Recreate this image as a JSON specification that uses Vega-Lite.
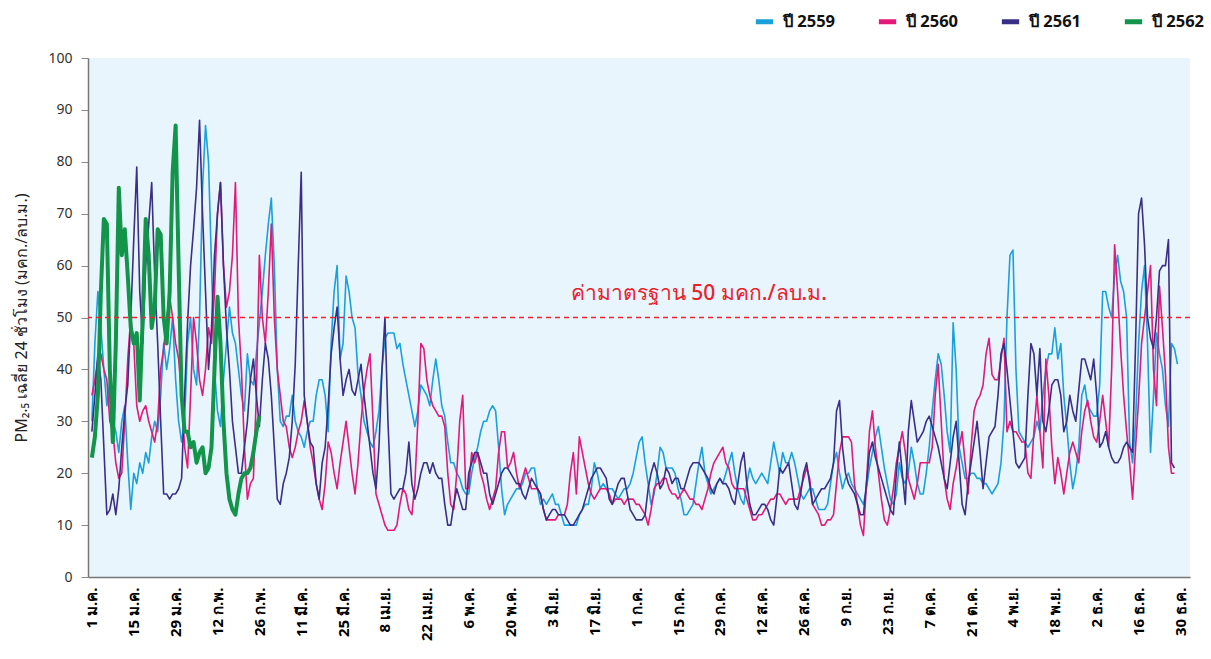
{
"$schema": "https://vega.github.io/schema/vega-lite/v6.json",
"width": 1102, "height": 519,
"autosize": {"type": "none"},
"padding": {"left": 88, "top": 58, "right": 21, "bottom": 82},
"background": "#ffffff",
"config": {"view": {"fill": "#e9f5fd", "stroke": null}, "font": "Noto Sans"},
"layer": [
{
"data": {"values": [
{"d":0,"2559":30,"2560":35,"2561":28,"2562":23},
{"d":1,"2559":45,"2560":38,"2561":35,"2562":27},
{"d":2,"2559":55,"2560":42,"2561":43,"2562":35},
{"d":3,"2559":48,"2560":43,"2561":38,"2562":55},
{"d":4,"2559":40,"2560":40,"2561":25,"2562":69},
{"d":5,"2559":33,"2560":38,"2561":12,"2562":68},
{"d":6,"2559":38,"2560":30,"2561":13,"2562":40},
{"d":7,"2559":30,"2560":28,"2561":16,"2562":26},
{"d":8,"2559":28,"2560":22,"2561":12,"2562":45},
{"d":9,"2559":24,"2560":19,"2561":17,"2562":75},
{"d":10,"2559":30,"2560":20,"2561":25,"2562":62},
{"d":11,"2559":33,"2560":30,"2561":32,"2562":67},
{"d":12,"2559":22,"2560":42,"2561":37,"2562":58},
{"d":13,"2559":13,"2560":50,"2561":50,"2562":48},
{"d":14,"2559":20,"2560":45,"2561":65,"2562":45},
{"d":15,"2559":18,"2560":33,"2561":79,"2562":47},
{"d":16,"2559":22,"2560":30,"2561":55,"2562":34},
{"d":17,"2559":20,"2560":32,"2561":45,"2562":50},
{"d":18,"2559":24,"2560":33,"2561":60,"2562":69},
{"d":19,"2559":22,"2560":30,"2561":68,"2562":62},
{"d":20,"2559":27,"2560":28,"2561":76,"2562":48},
{"d":21,"2559":30,"2560":26,"2561":58,"2562":52},
{"d":22,"2559":28,"2560":30,"2561":45,"2562":67},
{"d":23,"2559":35,"2560":40,"2561":30,"2562":66},
{"d":24,"2559":45,"2560":44,"2561":16,"2562":50},
{"d":25,"2559":40,"2560":50,"2561":16,"2562":45},
{"d":26,"2559":44,"2560":54,"2561":15,"2562":55},
{"d":27,"2559":50,"2560":50,"2561":16,"2562":78},
{"d":28,"2559":38,"2560":45,"2561":16,"2562":87},
{"d":29,"2559":30,"2560":42,"2561":17,"2562":60},
{"d":30,"2559":26,"2560":35,"2561":19,"2562":35},
{"d":31,"2559":30,"2560":25,"2561":35,"2562":28},
{"d":32,"2559":45,"2560":21,"2561":49,"2562":28},
{"d":33,"2559":50,"2560":35,"2561":60,"2562":25},
{"d":34,"2559":40,"2560":50,"2561":67,"2562":26},
{"d":35,"2559":37,"2560":45,"2561":75,"2562":22},
{"d":36,"2559":50,"2560":38,"2561":88,"2562":24},
{"d":37,"2559":75,"2560":35,"2561":70,"2562":25},
{"d":38,"2559":87,"2560":40,"2561":55,"2562":20},
{"d":39,"2559":80,"2560":48,"2561":40,"2562":21},
{"d":40,"2559":60,"2560":45,"2561":48,"2562":25},
{"d":41,"2559":40,"2560":55,"2561":62,"2562":40},
{"d":42,"2559":32,"2560":70,"2561":70,"2562":54},
{"d":43,"2559":29,"2560":76,"2561":76,"2562":45},
{"d":44,"2559":38,"2560":60,"2561":60,"2562":30},
{"d":45,"2559":45,"2560":52,"2561":48,"2562":20},
{"d":46,"2559":52,"2560":55,"2561":40,"2562":15},
{"d":47,"2559":47,"2560":62,"2561":30,"2562":13},
{"d":48,"2559":45,"2560":76,"2561":25,"2562":12},
{"d":49,"2559":40,"2560":50,"2561":20,"2562":16},
{"d":50,"2559":35,"2560":40,"2561":20,"2562":19},
{"d":51,"2559":32,"2560":25,"2561":25,"2562":20},
{"d":52,"2559":43,"2560":15,"2561":30,"2562":20},
{"d":53,"2559":38,"2560":18,"2561":38,"2562":21},
{"d":54,"2559":37,"2560":19,"2561":42,"2562":24},
{"d":55,"2559":43,"2560":35,"2561":35,"2562":28},
{"d":56,"2559":49,"2560":62,"2561":29,"2562":31},
{"d":57,"2559":55,"2560":50,"2561":38},
{"d":58,"2559":62,"2560":45,"2561":45},
{"d":59,"2559":68,"2560":55,"2561":42},
{"d":60,"2559":73,"2560":68,"2561":35},
{"d":61,"2559":60,"2560":50,"2561":25},
{"d":62,"2559":40,"2560":40,"2561":15},
{"d":63,"2559":30,"2560":35,"2561":14},
{"d":64,"2559":29,"2560":30,"2561":18},
{"d":65,"2559":31,"2560":29,"2561":20},
{"d":66,"2559":31,"2560":25,"2561":23},
{"d":67,"2559":35,"2560":23,"2561":30},
{"d":68,"2559":30,"2560":25,"2561":41},
{"d":69,"2559":28,"2560":28,"2561":60},
{"d":70,"2559":27,"2560":30,"2561":78},
{"d":71,"2559":25,"2560":34,"2561":35},
{"d":72,"2559":28,"2560":30,"2561":30},
{"d":73,"2559":30,"2560":25,"2561":26},
{"d":74,"2559":30,"2560":22,"2561":25},
{"d":75,"2559":35,"2560":18,"2561":18},
{"d":76,"2559":38,"2560":15,"2561":15},
{"d":77,"2559":38,"2560":13,"2561":22},
{"d":78,"2559":35,"2560":18,"2561":25},
{"d":79,"2559":28,"2560":26,"2561":33},
{"d":80,"2559":45,"2560":24,"2561":43},
{"d":81,"2559":55,"2560":20,"2561":48},
{"d":82,"2559":60,"2560":17,"2561":52},
{"d":83,"2559":42,"2560":22,"2561":42},
{"d":84,"2559":45,"2560":26,"2561":35},
{"d":85,"2559":58,"2560":30,"2561":38},
{"d":86,"2559":55,"2560":25,"2561":40},
{"d":87,"2559":50,"2560":20,"2561":36},
{"d":88,"2559":48,"2560":16,"2561":35},
{"d":89,"2559":39,"2560":22,"2561":38},
{"d":90,"2559":35,"2560":30,"2561":41},
{"d":91,"2559":30,"2560":36,"2561":35},
{"d":92,"2559":28,"2560":40,"2561":30},
{"d":93,"2559":26,"2560":43,"2561":25},
{"d":94,"2559":25,"2560":30,"2561":20},
{"d":95,"2559":28,"2560":16,"2561":17},
{"d":96,"2559":32,"2560":14,"2561":25},
{"d":97,"2559":40,"2560":12,"2561":40},
{"d":98,"2559":46,"2560":10,"2561":50},
{"d":99,"2559":47,"2560":9,"2561":30},
{"d":100,"2559":47,"2560":9,"2561":16},
{"d":101,"2559":47,"2560":9,"2561":15},
{"d":102,"2559":44,"2560":10,"2561":16},
{"d":103,"2559":45,"2560":14,"2561":17},
{"d":104,"2559":41,"2560":17,"2561":17},
{"d":105,"2559":38,"2560":16,"2561":20},
{"d":106,"2559":35,"2560":13,"2561":26},
{"d":107,"2559":32,"2560":12,"2561":18},
{"d":108,"2559":29,"2560":18,"2561":15},
{"d":109,"2559":32,"2560":30,"2561":17},
{"d":110,"2559":37,"2560":45,"2561":20},
{"d":111,"2559":36,"2560":44,"2561":22},
{"d":112,"2559":35,"2560":38,"2561":22},
{"d":113,"2559":33,"2560":35,"2561":20},
{"d":114,"2559":38,"2560":33,"2561":22},
{"d":115,"2559":42,"2560":32,"2561":20},
{"d":116,"2559":38,"2560":31,"2561":19},
{"d":117,"2559":33,"2560":31,"2561":19},
{"d":118,"2559":31,"2560":29,"2561":14},
{"d":119,"2559":26,"2560":20,"2561":10},
{"d":120,"2559":22,"2560":14,"2561":10},
{"d":121,"2559":22,"2560":13,"2561":14},
{"d":122,"2559":20,"2560":20,"2561":17},
{"d":123,"2559":19,"2560":30,"2561":15},
{"d":124,"2559":17,"2560":35,"2561":13},
{"d":125,"2559":16,"2560":17,"2561":13},
{"d":126,"2559":16,"2560":17,"2561":20},
{"d":127,"2559":20,"2560":24,"2561":22},
{"d":128,"2559":23,"2560":22,"2561":24},
{"d":129,"2559":25,"2560":24,"2561":24},
{"d":130,"2559":28,"2560":20,"2561":22},
{"d":131,"2559":30,"2560":18,"2561":20},
{"d":132,"2559":30,"2560":15,"2561":20},
{"d":133,"2559":32,"2560":13,"2561":16},
{"d":134,"2559":33,"2560":15,"2561":14},
{"d":135,"2559":32,"2560":17,"2561":16},
{"d":136,"2559":25,"2560":24,"2561":18},
{"d":137,"2559":17,"2560":28,"2561":20},
{"d":138,"2559":12,"2560":28,"2561":21},
{"d":139,"2559":14,"2560":21,"2561":21},
{"d":140,"2559":15,"2560":22,"2561":20},
{"d":141,"2559":16,"2560":24,"2561":19},
{"d":142,"2559":17,"2560":20,"2561":18},
{"d":143,"2559":17,"2560":17,"2561":18},
{"d":144,"2559":18,"2560":19,"2561":16},
{"d":145,"2559":20,"2560":21,"2561":15},
{"d":146,"2559":20,"2560":19,"2561":17},
{"d":147,"2559":21,"2560":17,"2561":19},
{"d":148,"2559":21,"2560":17,"2561":18},
{"d":149,"2559":17,"2560":17,"2561":17},
{"d":150,"2559":14,"2560":16,"2561":16},
{"d":151,"2559":15,"2560":13,"2561":13},
{"d":152,"2559":14,"2560":11,"2561":11},
{"d":153,"2559":15,"2560":11,"2561":12},
{"d":154,"2559":16,"2560":11,"2561":13},
{"d":155,"2559":14,"2560":11,"2561":13},
{"d":156,"2559":14,"2560":12,"2561":12},
{"d":157,"2559":12,"2560":12,"2561":12},
{"d":158,"2559":10,"2560":12,"2561":12},
{"d":159,"2559":10,"2560":14,"2561":11},
{"d":160,"2559":10,"2560":20,"2561":10},
{"d":161,"2559":10,"2560":24,"2561":10},
{"d":162,"2559":10,"2560":16,"2561":11},
{"d":163,"2559":12,"2560":27,"2561":12},
{"d":164,"2559":13,"2560":24,"2561":13},
{"d":165,"2559":14,"2560":21,"2561":15},
{"d":166,"2559":14,"2560":18,"2561":17},
{"d":167,"2559":17,"2560":16,"2561":19},
{"d":168,"2559":22,"2560":15,"2561":20},
{"d":169,"2559":20,"2560":16,"2561":21},
{"d":170,"2559":17,"2560":17,"2561":21},
{"d":171,"2559":18,"2560":17,"2561":20},
{"d":172,"2559":17,"2560":17,"2561":19},
{"d":173,"2559":17,"2560":16,"2561":15},
{"d":174,"2559":17,"2560":14,"2561":14},
{"d":175,"2559":16,"2560":15,"2561":16},
{"d":176,"2559":15,"2560":15,"2561":18},
{"d":177,"2559":16,"2560":15,"2561":19},
{"d":178,"2559":17,"2560":14,"2561":19},
{"d":179,"2559":17,"2560":15,"2561":16},
{"d":180,"2559":18,"2560":15,"2561":13},
{"d":181,"2559":20,"2560":15,"2561":12},
{"d":182,"2559":23,"2560":14,"2561":11},
{"d":183,"2559":26,"2560":14,"2561":11},
{"d":184,"2559":27,"2560":13,"2561":11},
{"d":185,"2559":22,"2560":12,"2561":12},
{"d":186,"2559":18,"2560":10,"2561":17},
{"d":187,"2559":14,"2560":13,"2561":20},
{"d":188,"2559":16,"2560":17,"2561":22},
{"d":189,"2559":20,"2560":18,"2561":20},
{"d":190,"2559":25,"2560":18,"2561":17},
{"d":191,"2559":24,"2560":19,"2561":18},
{"d":192,"2559":21,"2560":19,"2561":21},
{"d":193,"2559":21,"2560":17,"2561":20},
{"d":194,"2559":21,"2560":16,"2561":18},
{"d":195,"2559":20,"2560":16,"2561":19},
{"d":196,"2559":17,"2560":15,"2561":19},
{"d":197,"2559":15,"2560":16,"2561":17},
{"d":198,"2559":12,"2560":17,"2561":17},
{"d":199,"2559":12,"2560":16,"2561":19},
{"d":200,"2559":13,"2560":15,"2561":21},
{"d":201,"2559":14,"2560":15,"2561":22},
{"d":202,"2559":18,"2560":14,"2561":22},
{"d":203,"2559":22,"2560":14,"2561":22},
{"d":204,"2559":25,"2560":13,"2561":21},
{"d":205,"2559":20,"2560":15,"2561":20},
{"d":206,"2559":18,"2560":17,"2561":19},
{"d":207,"2559":16,"2560":20,"2561":17},
{"d":208,"2559":17,"2560":22,"2561":16},
{"d":209,"2559":18,"2560":23,"2561":18},
{"d":210,"2559":19,"2560":24,"2561":19},
{"d":211,"2559":18,"2560":25,"2561":18},
{"d":212,"2559":20,"2560":22,"2561":18},
{"d":213,"2559":22,"2560":21,"2561":17},
{"d":214,"2559":24,"2560":18,"2561":15},
{"d":215,"2559":20,"2560":17,"2561":14},
{"d":216,"2559":17,"2560":17,"2561":18},
{"d":217,"2559":15,"2560":17,"2561":22},
{"d":218,"2559":14,"2560":17,"2561":24},
{"d":219,"2559":18,"2560":15,"2561":18},
{"d":220,"2559":21,"2560":13,"2561":14},
{"d":221,"2559":19,"2560":11,"2561":12},
{"d":222,"2559":18,"2560":11,"2561":12},
{"d":223,"2559":19,"2560":12,"2561":13},
{"d":224,"2559":20,"2560":12,"2561":14},
{"d":225,"2559":19,"2560":13,"2561":14},
{"d":226,"2559":18,"2560":14,"2561":13},
{"d":227,"2559":22,"2560":15,"2561":11},
{"d":228,"2559":26,"2560":15,"2561":10},
{"d":229,"2559":23,"2560":16,"2561":15},
{"d":230,"2559":20,"2560":16,"2561":21},
{"d":231,"2559":24,"2560":15,"2561":20},
{"d":232,"2559":22,"2560":14,"2561":21},
{"d":233,"2559":22,"2560":15,"2561":22},
{"d":234,"2559":24,"2560":15,"2561":18},
{"d":235,"2559":22,"2560":15,"2561":14},
{"d":236,"2559":19,"2560":15,"2561":13},
{"d":237,"2559":16,"2560":17,"2561":16},
{"d":238,"2559":15,"2560":19,"2561":20},
{"d":239,"2559":16,"2560":21,"2561":22},
{"d":240,"2559":17,"2560":19,"2561":18},
{"d":241,"2559":17,"2560":14,"2561":14},
{"d":242,"2559":15,"2560":13,"2561":15},
{"d":243,"2559":13,"2560":12,"2561":16},
{"d":244,"2559":13,"2560":10,"2561":17},
{"d":245,"2559":13,"2560":10,"2561":17},
{"d":246,"2559":14,"2560":11,"2561":18},
{"d":247,"2559":18,"2560":11,"2561":19},
{"d":248,"2559":22,"2560":12,"2561":22},
{"d":249,"2559":24,"2560":18,"2561":32},
{"d":250,"2559":20,"2560":24,"2561":34},
{"d":251,"2559":17,"2560":27,"2561":25},
{"d":252,"2559":19,"2560":27,"2561":20},
{"d":253,"2559":20,"2560":27,"2561":18},
{"d":254,"2559":18,"2560":26,"2561":17},
{"d":255,"2559":17,"2560":18,"2561":16},
{"d":256,"2559":16,"2560":14,"2561":14},
{"d":257,"2559":15,"2560":10,"2561":12},
{"d":258,"2559":14,"2560":8,"2561":12},
{"d":259,"2559":17,"2560":18,"2561":18},
{"d":260,"2559":21,"2560":28,"2561":24},
{"d":261,"2559":24,"2560":32,"2561":26},
{"d":262,"2559":27,"2560":25,"2561":23},
{"d":263,"2559":29,"2560":20,"2561":21},
{"d":264,"2559":25,"2560":15,"2561":19},
{"d":265,"2559":21,"2560":11,"2561":17},
{"d":266,"2559":18,"2560":10,"2561":15},
{"d":267,"2559":15,"2560":13,"2561":13},
{"d":268,"2559":14,"2560":17,"2561":12},
{"d":269,"2559":16,"2560":22,"2561":20},
{"d":270,"2559":22,"2560":25,"2561":26},
{"d":271,"2559":19,"2560":28,"2561":20},
{"d":272,"2559":18,"2560":24,"2561":14},
{"d":273,"2559":20,"2560":19,"2561":28},
{"d":274,"2559":25,"2560":17,"2561":34},
{"d":275,"2559":22,"2560":15,"2561":30},
{"d":276,"2559":18,"2560":18,"2561":26},
{"d":277,"2559":16,"2560":22,"2561":27},
{"d":278,"2559":16,"2560":22,"2561":28},
{"d":279,"2559":20,"2560":22,"2561":30},
{"d":280,"2559":25,"2560":22,"2561":31},
{"d":281,"2559":32,"2560":25,"2561":29},
{"d":282,"2559":38,"2560":35,"2561":27},
{"d":283,"2559":43,"2560":41,"2561":25},
{"d":284,"2559":41,"2560":30,"2561":22},
{"d":285,"2559":35,"2560":19,"2561":19},
{"d":286,"2559":28,"2560":15,"2561":17},
{"d":287,"2559":24,"2560":13,"2561":22},
{"d":288,"2559":49,"2560":18,"2561":27},
{"d":289,"2559":40,"2560":21,"2561":30},
{"d":290,"2559":25,"2560":25,"2561":22},
{"d":291,"2559":22,"2560":28,"2561":14},
{"d":292,"2559":19,"2560":22,"2561":12},
{"d":293,"2559":19,"2560":16,"2561":18},
{"d":294,"2559":20,"2560":25,"2561":22},
{"d":295,"2559":20,"2560":32,"2561":26},
{"d":296,"2559":19,"2560":34,"2561":30},
{"d":297,"2559":19,"2560":35,"2561":24},
{"d":298,"2559":18,"2560":37,"2561":17},
{"d":299,"2559":18,"2560":43,"2561":22},
{"d":300,"2559":17,"2560":46,"2561":27},
{"d":301,"2559":16,"2560":39,"2561":28},
{"d":302,"2559":17,"2560":38,"2561":29},
{"d":303,"2559":18,"2560":38,"2561":35},
{"d":304,"2559":22,"2560":42,"2561":43},
{"d":305,"2559":30,"2560":46,"2561":45},
{"d":306,"2559":50,"2560":28,"2561":40},
{"d":307,"2559":62,"2560":30,"2561":34},
{"d":308,"2559":63,"2560":28,"2561":28},
{"d":309,"2559":40,"2560":28,"2561":22},
{"d":310,"2559":28,"2560":27,"2561":21},
{"d":311,"2559":27,"2560":26,"2561":22},
{"d":312,"2559":26,"2560":26,"2561":23},
{"d":313,"2559":25,"2560":20,"2561":35},
{"d":314,"2559":26,"2560":19,"2561":45},
{"d":315,"2559":27,"2560":28,"2561":43},
{"d":316,"2559":30,"2560":35,"2561":35},
{"d":317,"2559":28,"2560":28,"2561":44},
{"d":318,"2559":35,"2560":21,"2561":30},
{"d":319,"2559":40,"2560":42,"2561":28},
{"d":320,"2559":43,"2560":35,"2561":32},
{"d":321,"2559":43,"2560":25,"2561":37},
{"d":322,"2559":48,"2560":18,"2561":38},
{"d":323,"2559":42,"2560":23,"2561":38},
{"d":324,"2559":45,"2560":20,"2561":35},
{"d":325,"2559":35,"2560":16,"2561":28},
{"d":326,"2559":29,"2560":20,"2561":30},
{"d":327,"2559":22,"2560":24,"2561":35},
{"d":328,"2559":17,"2560":26,"2561":32},
{"d":329,"2559":20,"2560":24,"2561":30},
{"d":330,"2559":25,"2560":22,"2561":36},
{"d":331,"2559":35,"2560":28,"2561":42},
{"d":332,"2559":37,"2560":32,"2561":42},
{"d":333,"2559":33,"2560":34,"2561":40},
{"d":334,"2559":32,"2560":30,"2561":38},
{"d":335,"2559":31,"2560":27,"2561":42},
{"d":336,"2559":31,"2560":26,"2561":35},
{"d":337,"2559":37,"2560":30,"2561":25},
{"d":338,"2559":55,"2560":35,"2561":26},
{"d":339,"2559":55,"2560":30,"2561":28},
{"d":340,"2559":52,"2560":25,"2561":25},
{"d":341,"2559":50,"2560":40,"2561":23},
{"d":342,"2559":58,"2560":64,"2561":22},
{"d":343,"2559":62,"2560":55,"2561":22},
{"d":344,"2559":57,"2560":44,"2561":23},
{"d":345,"2559":55,"2560":35,"2561":25},
{"d":346,"2559":50,"2560":28,"2561":26},
{"d":347,"2559":26,"2560":22,"2561":25},
{"d":348,"2559":22,"2560":15,"2561":24},
{"d":349,"2559":30,"2560":25,"2561":45},
{"d":350,"2559":45,"2560":34,"2561":70},
{"d":351,"2559":55,"2560":45,"2561":73},
{"d":352,"2559":60,"2560":50,"2561":64},
{"d":353,"2559":45,"2560":55,"2561":50},
{"d":354,"2559":24,"2560":60,"2561":46},
{"d":355,"2559":35,"2560":40,"2561":44},
{"d":356,"2559":47,"2560":33,"2561":50},
{"d":357,"2559":43,"2560":56,"2561":59},
{"d":358,"2559":40,"2560":48,"2561":60},
{"d":359,"2559":33,"2560":39,"2561":60},
{"d":360,"2559":29,"2560":25,"2561":65},
{"d":361,"2559":45,"2560":20,"2561":22},
{"d":362,"2559":44,"2560":20,"2561":21},
{"d":363,"2559":41}
]},
"transform": [
{"fold": ["2559", "2560", "2561", "2562"], "as": ["yr", "v"]},
{"filter": "isValid(datum.v)"}
],
"encoding": {
"x": {"field": "d", "type": "quantitative",
"scale": {"domain": [-1.3, 367.2], "nice": false, "zero": false},
"axis": {"values": [0,14,28,42,56,70,84,98,112,126,140,154,168,182,196,210,224,238,252,266,280,294,308,322,336,350,364],
"labelExpr": "['1 ม.ค.','15 ม.ค.','29 ม.ค.','12 ก.พ.','26 ก.พ.','11 มี.ค.','25 มี.ค.','8 เม.ย.','22 เม.ย.','6 พ.ค.','20 พ.ค.','3 มิ.ย.','17 มิ.ย.','1 ก.ค.','15 ก.ค.','29 ก.ค.','12 ส.ค.','26 ส.ค.','9 ก.ย.','23 ก.ย.','7 ต.ค.','21 ต.ค.','4 พ.ย.','18 พ.ย.','2 ธ.ค.','16 ธ.ค.','30 ธ.ค.'][round(datum.value/14)]",
"labelAngle": -90, "labelFontSize": 15, "labelFontWeight": "bold", "labelColor": "#000000",
"ticks": false, "grid": false, "domainColor": "#777777", "domainWidth": 1.5, "labelPadding": 10, "title": null, "labelOverlap": false}},
"y": {"field": "v", "type": "quantitative",
"scale": {"domain": [0, 100], "nice": false},
"axis": {"values": [0,10,20,30,40,50,60,70,80,90,100], "labelFontSize": 14, "labelColor": "#333333", "labelPadding": 9,
"tickColor": "#888888", "tickSize": 7, "domainColor": "#777777", "domainWidth": 1.5, "grid": false,
"title": "PM₂.₅ เฉลี่ย 24 ชั่วโมง (มคก./ลบ.ม.)", "titleFontSize": 16, "titleFontWeight": "normal", "titleColor": "#222222", "titlePadding": 18}},
"color": {"field": "yr", "type": "nominal",
"scale": {"domain": ["2559", "2560", "2561", "2562"], "range": ["#1aa0db", "#e3197a", "#3a2f86", "#12954a"]},
"legend": {"orient": "none", "legendX": 665, "legendY": -48, "direction": "horizontal", "title": null,
"labelExpr": "'ปี ' + datum.label", "symbolType": "stroke", "symbolStrokeWidth": 5, "symbolSize": 300,
"labelFontSize": 16.5, "labelFontWeight": "bold", "labelColor": "#111111", "columnPadding": 32, "labelOffset": 7}}
},
"layer": [
{"transform": [{"filter": "datum.yr !== '2562'"}], "mark": {"type": "line", "strokeWidth": 1.6, "strokeJoin": "round"}},
{"transform": [{"filter": "datum.yr === '2562'"}], "mark": {"type": "line", "strokeWidth": 4, "strokeJoin": "round"}}
]
},
{
"data": {"values": [{}]},
"mark": {"type": "rule", "strokeDash": [5, 4], "strokeWidth": 1.5, "opacity": 1},
"encoding": {"y": {"datum": 50}, "color": {"value": "#f0242f"}}
},
{
"data": {"values": [{}]},
"mark": {"type": "text", "fill": "#e8212b", "fontSize": 21, "fontWeight": 500, "align": "center", "baseline": "middle"},
"encoding": {"x": {"datum": 203}, "y": {"datum": 54.5}, "text": {"value": "ค่ามาตรฐาน 50 มคก./ลบ.ม."}}
}
]
}
